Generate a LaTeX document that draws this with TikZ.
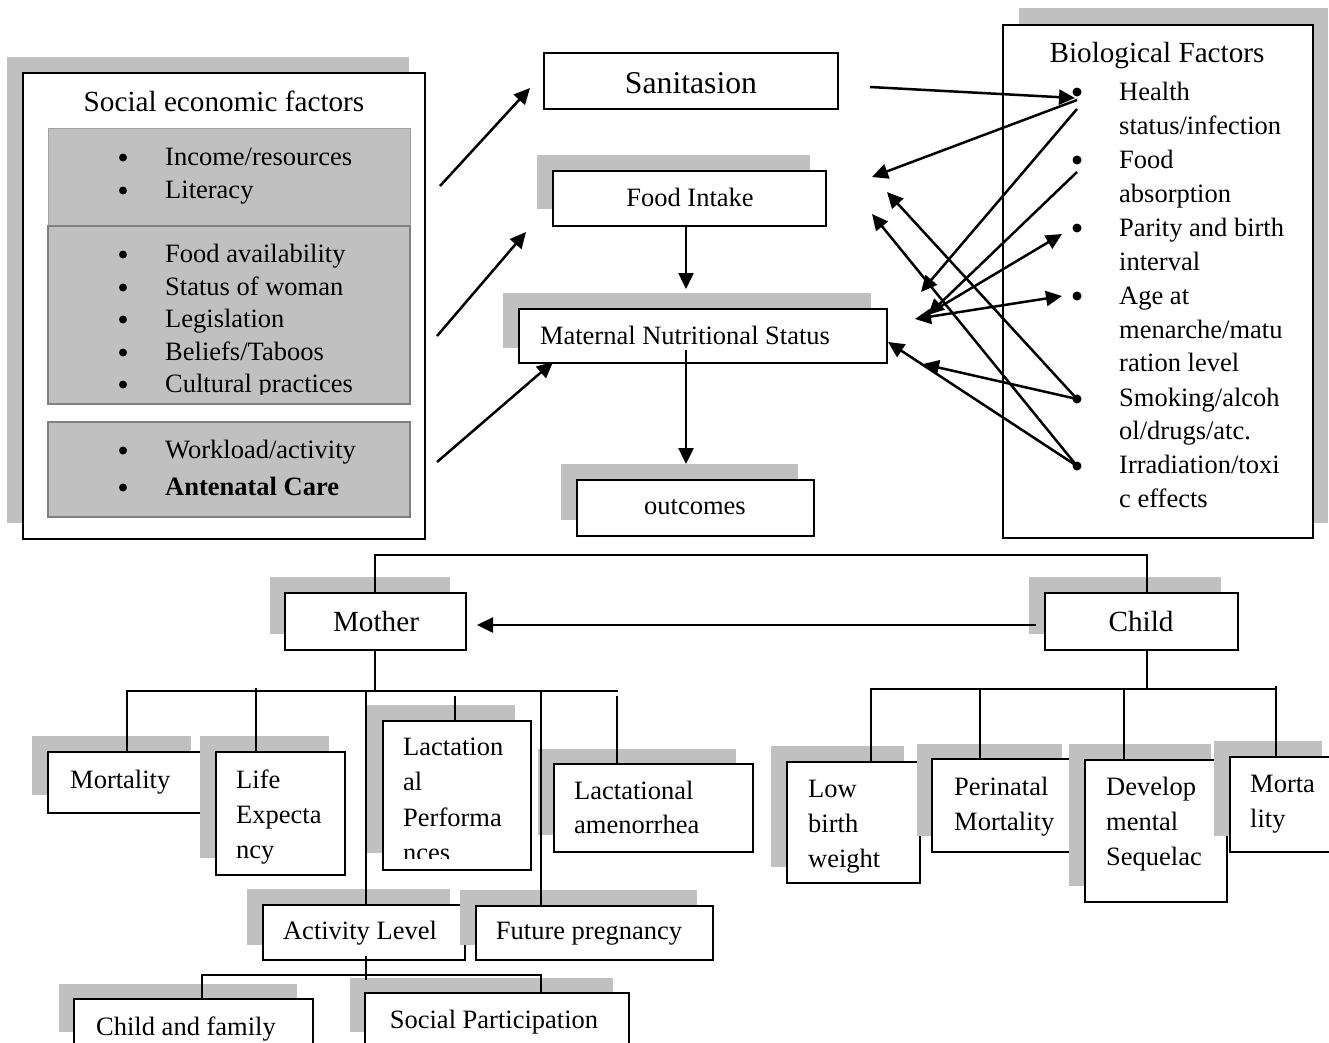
\documentclass[tikz,border=0pt]{standalone}
\usepackage{fontspec}
\setmainfont{Liberation Serif}
\usetikzlibrary{arrows.meta,fit,calc}
\definecolor{sg}{RGB}{192,192,192}
\definecolor{pb}{RGB}{128,128,128}
\newcommand\mlin[3]{\fontsize{#1}{#2}\selectfont\parbox[t]{400pt}{\raggedright #3}}
\begin{document}
\begin{tikzpicture}[x=1pt,y=-1pt,
  box/.style={draw=black, line width=2pt, fill=white, inner sep=0pt, outer sep=0pt},
  panel/.style={fill=sg, inner sep=0pt, outer sep=0pt},
  conn/.style={line width=2pt},
  arr/.style={line width=2.5pt, -{Triangle[length=16pt,width=15pt]}},
  darr/.style={line width=2.5pt, {Triangle[length=16pt,width=15pt]}-{Triangle[length=16pt,width=15pt]}},
  txt/.style={font=\fontsize{26.5}{30}\selectfont, inner sep=0pt},
  ttl/.style={font=\fontsize{29.2}{33}\selectfont, inner sep=0pt},
  dot/.style={circle, fill=black, inner sep=0pt, minimum size=9pt},
]
\useasboundingbox (0,0) rectangle (1329,1042);
\fill[white] (0,0) rectangle (1329,1042);
\clip (0,0) rectangle (1329,1042);

% ---------------- Social economic factors ----------------
\fill[sg] (7,57) rectangle (409,523);
\node[box, fit={(23,73)(425,539)}] (SE) {};
\node[ttl, anchor=base] (SEt) at (224,111) {Social economic factors};
\node[panel, draw=sg!85!black, line width=0.8pt, fit={(48,128)(410,226)}] (P1) {};
\node[panel, draw=pb, line width=1.4pt, fit={(48,226)(410,404)}] (P2) {};
\node[panel, draw=pb, line width=1.4pt, fit={(48,422)(410,517)}] (P3) {};
\newcommand\sitem[3]{\node[dot, minimum size=8pt] (#1d) at (123,#2-7.5) {};
  \node[txt, anchor=base west] (#1) at (165,#2) {#3};}
\sitem{iInc}{165}{Income/resources}
\sitem{iLit}{198}{Literacy}
\sitem{iFood}{262}{Food availability}
\sitem{iStat}{295}{Status of woman}
\sitem{iLeg}{327}{Legislation}
\sitem{iBel}{360}{Beliefs/Taboos}
\node[dot, minimum size=8pt] (iCuld) at (123,384.5) {};
\begin{scope}
  \clip (40,360) rectangle (420,394);
  \node[txt, anchor=base west] (iCul) at (165,392) {Cultural practices};
\end{scope}
\sitem{iWork}{458}{Workload/activity}
\sitem{iAnt}{495}{\bfseries Antenatal Care}

% ---------------- Centre column ----------------
\node[box, fit={(544,53)(838,109)}] (San) {};
\node[font=\fontsize{31.7}{36}\selectfont, inner sep=0pt, anchor=base] (Sant) at (691,93) {Sanitasion};
\fill[sg] (537,155) rectangle (810,209);
\node[box, fit={(553,171)(826,226)}] (FI) {};
\node[txt, anchor=base] (FIt) at (690,206) {Food Intake};
\fill[sg] (503,293) rectangle (871,348);
\node[box, fit={(519,309)(887,363)}] (MNS) {};
\node[txt, anchor=base] (MNSt) at (685,344) {Maternal Nutritional Status};
\fill[sg] (561,464) rectangle (798,520);
\node[box, fit={(577,480)(814,536)}] (OUT) {};
\node[txt, anchor=base] (OUTt) at (695,514) {outcomes};

\draw[arr] ($(FI.south)+(-3.5,0)$) -- ($(MNS.north)+(-17,-20)$);
\draw[arr] ($(MNS.south)+(-17,-13)$) -- ($(OUT.north)+(-9.5,-16)$);

\coordinate (L1s) at ($(SE.north east)+(15,113)$);
\coordinate (L2s) at ($(SE.north east)+(12,263)$);
\coordinate (L3s) at ($(SE.north east)+(12,389)$);
\draw[arr] (L1s) -- ($(San.west)+(-14,7)$);
\draw[arr] (L2s) -- ($(FI.south west)+(-27,6)$);
\draw[arr] (L3s) -- ($(MNS.south west)+(34,-1)$);

% ---------------- Biological factors ----------------
\fill[sg] (1019,8) rectangle (1328,523);
\node[box, fit={(1003,25)(1313,538)}] (BIO) {};
\node[ttl, anchor=base] (BIOt) at (1157,62) {Biological Factors};
\node[dot] (bH) at (1077,92) {};
\node[dot] (bF) at (1077,160) {};
\node[dot] (bP) at (1077,228) {};
\node[dot] (bA) at (1077,296) {};
\node[dot] (bS) at (1077,399) {};
\node[dot] (bI) at (1077,466) {};
\node[anchor=base west, inner sep=0pt] (tH) at (1119,100.5) {\mlin{26.5}{33.6}{Health\\status/infection}};
\node[anchor=base west, inner sep=0pt] (tF) at (1119,168.5) {\mlin{26.5}{33.6}{Food\\absorption}};
\node[anchor=base west, inner sep=0pt] (tP) at (1119,236.5) {\mlin{26.5}{33.6}{Parity and birth\\interval}};
\node[anchor=base west, inner sep=0pt] (tA) at (1119,304.5) {\mlin{26.5}{33.6}{Age at\\menarche/matu\\ration level}};
\node[anchor=base west, inner sep=0pt] (tS) at (1119,406) {\mlin{26.5}{33.6}{Smoking/alcoh\\ol/drugs/atc.}};
\node[anchor=base west, inner sep=0pt] (tI) at (1119,473.5) {\mlin{26.5}{33.6}{Irradiation/toxi\\c effects}};

\draw[arr] ($(San.east)+(32,6)$) -- ($(bH.center)+(-2,6)$);
\draw[arr] ($(bH.center)+(0,8)$) -- ($(FI.east)+(46,-21.5)$);
\draw[arr] ($(bH.center)+(0,17)$) -- ($(MNS.north east)+(34,-17)$);
\draw[arr] ($(bF.center)+(0,12)$) -- ($(MNS.east)+(41,-21)$);
\draw[arr] ($(MNS.east)+(46,-25)$) -- ($(bP.center)+(-15,6)$);
\draw[darr] ($(MNS.east)+(28,-17)$) -- ($(bA.center)+(-15,0)$);
\draw[arr] (bS.center) -- ($(MNS.east)+(36,28)$);
\draw[arr] (bI.center) -- ($(MNS.east)+(1,6)$);
\draw[arr] (bS.center) -- ($(FI.east)+(61,-6.5)$);
\draw[arr] (bI.center) -- ($(FI.east)+(46,15.5)$);

% ---------------- Bottom: Mother / Child ----------------
\fill[sg] (270,577) rectangle (450,634);
\node[box, fit={(285,593)(466,650)}] (Mother) {};
\node[ttl, anchor=base] (Mothert) at (376,631) {Mother};
\fill[sg] (1029,577) rectangle (1221,634);
\node[box, fit={(1045,593)(1238,650)}] (Child) {};
\node[ttl, anchor=base] (Childt) at (1141,631) {Child};

\fill[sg] (32,736) rectangle (191,795);
\node[box, fit={(48,752)(207,813)}] (Mort) {};
\node[txt, anchor=base west] (Mortt) at (70,788) {Mortality};
\fill[sg] (200,736) rectangle (329,858);
\node[box, fit={(216,752)(345,875)}] (LE) {};
\node[anchor=base west, inner sep=0pt] (LEt) at (236,788) {\mlin{26.5}{35}{Life\\Expecta\\ncy}};
\fill[sg] (367,705) rectangle (515,853);
\node[box, fit={(383,721)(531,870)}] (Lact) {};
\begin{scope}
  \clip (383,721) rectangle (531,858);
  \node[anchor=base west, inner sep=0pt] (Lactt) at (403,755) {\mlin{26.5}{35.5}{Lactation\\al\\Performa\\nces}};
\end{scope}
\fill[sg] (538,749) rectangle (736,835);
\node[box, fit={(554,764)(753,852)}] (AM) {};
\node[anchor=base west, inner sep=0pt] (AMt) at (574,799) {\mlin{26.5}{34}{Lactational\\amenorrhea}};
\fill[sg] (247,889) rectangle (450,945);
\node[box, fit={(263,905)(465,960)}] (AL) {};
\node[txt, anchor=base] (ALt) at (360,939) {Activity Level};
\fill[sg] (460,890) rectangle (697,945);
\node[box, fit={(476,906)(713,960)}] (FP) {};
\node[txt, anchor=base] (FPt) at (589,939) {Future pregnancy};
\fill[sg] (59,984) rectangle (297,1032);
\node[box, fit={(74,999)(313,1070)}] (CF) {};
\node[txt, anchor=base west] (CFt) at (96,1035) {Child and family};
\fill[sg] (350,978) rectangle (613,1032);
\node[box, fit={(365,993)(629,1070)}] (SP) {};
\node[txt, anchor=base] (SPt) at (494,1028) {Social Participation};

\fill[sg] (771,746) rectangle (904,867);
\node[box, fit={(787,762)(920,883)}] (LBW) {};
\node[anchor=base west, inner sep=0pt] (LBWt) at (808,797) {\mlin{26.5}{35}{Low\\birth\\weight}};
\fill[sg] (917,744) rectangle (1062,836);
\node[box, fit={(932,759)(1077,852)}] (PM) {};
\node[anchor=base west, inner sep=0pt] (PMt) at (954,795) {\mlin{26.5}{35}{Perinatal\\Mortality}};
\fill[sg] (1069,744) rectangle (1211,886);
\node[box, fit={(1085,760)(1227,902)}] (DS) {};
\node[anchor=base west, inner sep=0pt] (DSt) at (1106,795) {\mlin{26.5}{35}{Develop\\mental\\Sequelac}};
\fill[sg] (1214,741) rectangle (1322,836);
\node[box, fit={(1230,757)(1370,852)}] (MC) {};
\node[anchor=base west, inner sep=0pt] (MCt) at (1250,792) {\mlin{26.5}{35}{Morta\\lity}};

% connectors
\draw[conn] ($(Mother.north)+(-0.5,0)$) -- (375,555) -- (1147,555) -- ($(Child.north)+(5.5,0)$);
\draw[arr] ($(Child.west)+(-9,3.5)$) -- ($(Mother.east)+(11,3.5)$);

\coordinate (mh) at (375,691);
\coordinate (mhL) at (127,691);
\coordinate (mhR) at (617,691);
\draw[conn] ($(Mother.south)+(-0.5,0)$) -- (mh);
\draw[conn] ($(mhL)+(-1,0)$) -- ($(mhR)+(1,0)$);
\draw[conn] (mhL) -- ($(Mort.north)+(-0.5,0)$);
\draw[conn] (256,688) -- ($(LE.north west)+(40,0)$);
\draw[conn] (366,691) -- ($(AL.north)+(2,0)$);
\draw[conn] (455,696) -- ($(Lact.north)+(-2,0)$);
\draw[conn] (541,691) -- ($(FP.north west)+(65,0)$);
\draw[conn] (617,696) -- ($(AM.north west)+(63,0)$);

\coordinate (ah) at (366,975);
\draw[conn] ($(AL.south)+(2,-4)$) -- (366,980);
\draw[conn] (201,975) -- (542,975);
\draw[conn] (202,975) -- ($(CF.north west)+(128,0)$);
\draw[conn] (541,975) -- ($(SP.north west)+(176,0)$);

\coordinate (ch) at (1147,689);
\draw[conn] ($(Child.south)+(5.5,0)$) -- (ch);
\draw[conn] (870,689) -- (1277,689);
\draw[conn] (871,689) -- ($(LBW.north west)+(84,0)$);
\draw[conn] (980,689) -- ($(PM.north west)+(48,0)$);
\draw[conn] (1124,689) -- ($(DS.north west)+(39,0)$);
\draw[conn] (1276,686) -- ($(MC.north west)+(46,0)$);
\end{tikzpicture}
\end{document}
